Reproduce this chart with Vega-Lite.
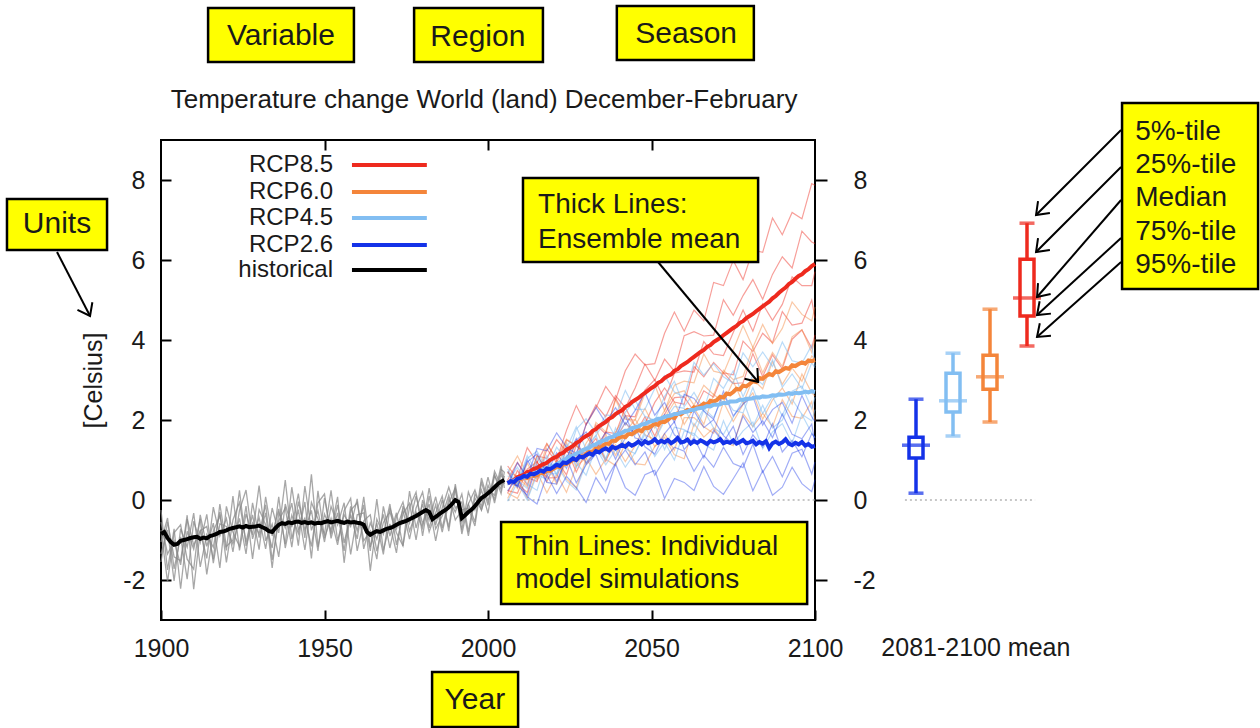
{
  "$schema": "https://vega.github.io/schema/vega-lite/v6.json",
  "width": 654,
  "height": 480,
  "autosize": "none",
  "padding": {"left": 161, "top": 140, "right": 445, "bottom": 108},
  "background": "white",
  "config": {
    "view": {"stroke": "black", "strokeWidth": 2},
    "font": "Liberation Sans",
    "axis": {"labelFont": "Liberation Sans", "titleFont": "Liberation Sans"}
  },
  "datasets": {
    "hm": [
      {"year":1900,"t":-0.85},{"year":1901,"t":-0.80},{"year":1902,"t":-0.95},{"year":1903,"t":-1.05},{"year":1904,"t":-1.12},{"year":1905,"t":-1.10},{"year":1906,"t":-1.02},{"year":1907,"t":-1.00},{"year":1908,"t":-0.98},{"year":1909,"t":-0.95},
      {"year":1910,"t":-0.93},{"year":1911,"t":-0.92},{"year":1912,"t":-0.97},{"year":1913,"t":-0.94},{"year":1914,"t":-0.96},{"year":1915,"t":-0.90},{"year":1916,"t":-0.88},{"year":1917,"t":-0.85},{"year":1918,"t":-0.80},{"year":1919,"t":-0.79},
      {"year":1920,"t":-0.76},{"year":1921,"t":-0.72},{"year":1922,"t":-0.70},{"year":1923,"t":-0.68},{"year":1924,"t":-0.66},{"year":1925,"t":-0.69},{"year":1926,"t":-0.65},{"year":1927,"t":-0.68},{"year":1928,"t":-0.67},{"year":1929,"t":-0.66},
      {"year":1930,"t":-0.64},{"year":1931,"t":-0.68},{"year":1932,"t":-0.72},{"year":1933,"t":-0.78},{"year":1934,"t":-0.80},{"year":1935,"t":-0.70},{"year":1936,"t":-0.62},{"year":1937,"t":-0.58},{"year":1938,"t":-0.60},{"year":1939,"t":-0.56},
      {"year":1940,"t":-0.58},{"year":1941,"t":-0.55},{"year":1942,"t":-0.54},{"year":1943,"t":-0.57},{"year":1944,"t":-0.55},{"year":1945,"t":-0.58},{"year":1946,"t":-0.56},{"year":1947,"t":-0.59},{"year":1948,"t":-0.57},{"year":1949,"t":-0.58},
      {"year":1950,"t":-0.55},{"year":1951,"t":-0.53},{"year":1952,"t":-0.56},{"year":1953,"t":-0.54},{"year":1954,"t":-0.52},{"year":1955,"t":-0.55},{"year":1956,"t":-0.57},{"year":1957,"t":-0.54},{"year":1958,"t":-0.56},{"year":1959,"t":-0.55},
      {"year":1960,"t":-0.57},{"year":1961,"t":-0.58},{"year":1962,"t":-0.62},{"year":1963,"t":-0.80},{"year":1964,"t":-0.87},{"year":1965,"t":-0.82},{"year":1966,"t":-0.78},{"year":1967,"t":-0.80},{"year":1968,"t":-0.76},{"year":1969,"t":-0.72},
      {"year":1970,"t":-0.70},{"year":1971,"t":-0.67},{"year":1972,"t":-0.62},{"year":1973,"t":-0.58},{"year":1974,"t":-0.55},{"year":1975,"t":-0.52},{"year":1976,"t":-0.48},{"year":1977,"t":-0.44},{"year":1978,"t":-0.40},{"year":1979,"t":-0.35},
      {"year":1980,"t":-0.30},{"year":1981,"t":-0.25},{"year":1982,"t":-0.30},{"year":1983,"t":-0.48},{"year":1984,"t":-0.42},{"year":1985,"t":-0.36},{"year":1986,"t":-0.30},{"year":1987,"t":-0.25},{"year":1988,"t":-0.18},{"year":1989,"t":-0.10},
      {"year":1990,"t":0.00},{"year":1991,"t":-0.05},{"year":1992,"t":-0.45},{"year":1993,"t":-0.38},{"year":1994,"t":-0.30},{"year":1995,"t":-0.24},{"year":1996,"t":-0.15},{"year":1997,"t":-0.05},{"year":1998,"t":0.05},{"year":1999,"t":0.10},
      {"year":2000,"t":0.17},{"year":2001,"t":0.24},{"year":2002,"t":0.32},{"year":2003,"t":0.40},{"year":2004,"t":0.46},{"year":2005,"t":0.50}
    ],
    "ht": [
      {"year":1900,"a":-0.55,"b":-1.35,"c":-0.25,"d":-1.05,"e":-0.75,"f":-1.55},
      {"year":1902,"a":-1.35,"b":-0.75,"c":-1.75,"d":-0.45,"e":-2.05,"f":-0.55},
      {"year":1904,"a":-1.02,"b":-2.02,"c":-0.72,"d":-1.72,"e":-0.82,"f":-1.42},
      {"year":1906,"a":-1.62,"b":-0.72,"c":-2.22,"d":-0.92,"e":-0.62,"f":-1.52},
      {"year":1908,"a":-0.48,"b":-1.18,"c":-0.78,"d":-1.98,"e":-1.48,"f":-0.38},
      {"year":1910,"a":-1.13,"b":-0.33,"c":-1.23,"d":-0.53,"e":-1.73,"f":-2.23},
      {"year":1912,"a":-0.77,"b":-1.67,"c":-0.47,"d":-1.07,"e":-0.37,"f":-0.77},
      {"year":1914,"a":-1.46,"b":-0.86,"c":-1.86,"d":-0.36,"e":-1.16,"f":-0.66},
      {"year":1916,"a":-0.18,"b":-1.18,"c":-0.78,"d":-1.58,"e":-0.58,"f":-1.48},
      {"year":1918,"a":-0.90,"b":-0.30,"c":-0.40,"d":-0.60,"e":-1.70,"f":-0.10},
      {"year":1920,"a":-0.46,"b":-1.56,"c":-1.26,"d":-0.66,"e":-0.16,"f":-1.16},
      {"year":1922,"a":-1.30,"b":-0.50,"c":0.10,"d":-1.10,"e":-0.80,"f":-1.00},
      {"year":1924,"a":-0.26,"b":-0.06,"c":-1.26,"d":-0.46,"e":-1.16,"f":0.24},
      {"year":1926,"a":0.25,"b":-1.05,"c":-0.35,"d":-1.35,"e":-0.15,"f":-1.15},
      {"year":1928,"a":-0.97,"b":-0.37,"c":-0.87,"d":-0.07,"e":-1.47,"f":-0.57},
      {"year":1930,"a":-0.44,"b":-1.24,"c":0.36,"d":-0.94,"e":-0.24,"f":-0.84},
      {"year":1932,"a":-1.22,"b":0.08,"c":-1.02,"d":-0.32,"e":-0.62,"f":-0.12},
      {"year":1934,"a":-0.20,"b":-0.90,"c":-0.60,"d":-1.70,"e":-1.20,"f":-1.50},
      {"year":1936,"a":-0.82,"b":-0.22,"c":-1.42,"d":-0.32,"e":0.08,"f":-0.52},
      {"year":1938,"a":0.50,"b":-1.10,"c":-0.10,"d":-0.70,"e":-1.20,"f":-0.20},
      {"year":1940,"a":-0.98,"b":0.32,"c":-0.68,"d":-0.08,"e":-0.38,"f":-1.18},
      {"year":1942,"a":-0.24,"b":-0.74,"c":0.16,"d":-1.14,"e":-0.84,"f":-0.04},
      {"year":1944,"a":-1.25,"b":-0.45,"c":-0.95,"d":0.35,"e":-0.05,"f":-0.75},
      {"year":1946,"a":-0.06,"b":-1.16,"c":0.64,"d":-0.76,"e":-1.46,"f":-0.26},
      {"year":1948,"a":-0.47,"b":-0.07,"c":-1.17,"d":-0.27,"e":0.23,"f":-1.27},
      {"year":1950,"a":-0.85,"b":0.15,"c":-0.35,"d":-1.05,"e":-0.95,"f":0.05},
      {"year":1952,"a":0.24,"b":-0.96,"c":-0.76,"d":-0.16,"e":-0.46,"f":-0.86},
      {"year":1954,"a":-1.02,"b":-0.32,"c":0.08,"d":-0.62,"e":-1.12,"f":-0.12},
      {"year":1956,"a":-0.37,"b":-1.27,"c":-1.57,"d":-0.07,"e":-0.27,"f":-1.07},
      {"year":1958,"a":-0.66,"b":-0.16,"c":-0.26,"d":-1.36,"e":0.04,"f":-0.36},
      {"year":1960,"a":0.03,"b":-0.77,"c":-0.07,"d":-0.37,"e":-1.27,"f":-0.97},
      {"year":1962,"a":-1.22,"b":-0.12,"c":-1.02,"d":-0.32,"e":-0.52,"f":0.08},
      {"year":1964,"a":-0.57,"b":-1.77,"c":-0.77,"d":-1.27,"e":-0.37,"f":-1.17},
      {"year":1966,"a":-0.98,"b":-0.48,"c":-1.48,"d":0.02,"e":-1.28,"f":-0.58},
      {"year":1968,"a":-0.36,"b":-0.86,"c":-0.16,"d":-1.26,"e":-0.56,"f":-1.36},
      {"year":1970,"a":-1.20,"b":-0.10,"c":-0.90,"d":-0.60,"e":-0.30,"f":-0.20},
      {"year":1972,"a":-0.42,"b":-1.12,"c":-0.32,"d":-1.32,"e":-0.82,"f":-0.72},
      {"year":1974,"a":-0.05,"b":-0.35,"c":-1.15,"d":-0.15,"e":-1.15,"f":-0.25},
      {"year":1976,"a":-0.78,"b":-0.08,"c":0.22,"d":-0.58,"e":-0.18,"f":-0.98},
      {"year":1978,"a":-0.30,"b":-1.00,"c":-0.70,"d":0.10,"e":0.20,"f":-0.20},
      {"year":1980,"a":-0.70,"b":0.00,"c":-0.10,"d":-0.60,"e":-0.90,"f":0.20},
      {"year":1982,"a":0.30,"b":-0.50,"c":-0.80,"d":-0.10,"e":0.10,"f":-0.70},
      {"year":1984,"a":-0.62,"b":0.08,"c":-0.32,"d":-1.02,"e":-0.72,"f":-0.12},
      {"year":1986,"a":0.00,"b":-0.70,"c":0.10,"d":-0.20,"e":-0.40,"f":-0.80},
      {"year":1988,"a":-0.68,"b":0.02,"c":-0.78,"d":0.32,"e":0.12,"f":-0.08},
      {"year":1990,"a":0.40,"b":-0.30,"c":0.30,"d":-0.20,"e":-0.50,"f":0.30},
      {"year":1992,"a":-0.55,"b":0.15,"c":-0.75,"d":-0.05,"e":-0.25,"f":-0.85},
      {"year":1994,"a":-0.10,"b":-0.80,"c":0.20,"d":-0.90,"e":-0.20,"f":-0.10},
      {"year":1996,"a":-0.55,"b":0.15,"c":-0.25,"d":0.05,"e":-0.65,"f":0.25},
      {"year":1998,"a":0.55,"b":-0.15,"c":0.25,"d":-0.25,"e":0.45,"f":-0.25},
      {"year":2000,"a":-0.03,"b":0.57,"c":-0.33,"d":0.27,"e":-0.13,"f":0.37},
      {"year":2002,"a":0.62,"b":-0.08,"c":0.62,"d":0.12,"e":0.72,"f":0.02},
      {"year":2004,"a":0.16,"b":0.66,"c":0.26,"d":0.86,"e":0.36,"f":0.76},
      {"year":2005,"a":0.60,"b":0.40,"c":0.70,"d":0.30,"e":0.50,"f":0.70}
    ],
    "rm": [
      {"year":2006,"r85":0.42,"r60":0.42,"r45":0.42,"r26":0.42},{"year":2007,"r85":0.46,"r60":0.47,"r45":0.46,"r26":0.47},{"year":2008,"r85":0.50,"r60":0.44,"r45":0.48,"r26":0.45},{"year":2009,"r85":0.57,"r60":0.52,"r45":0.53,"r26":0.53},
      {"year":2010,"r85":0.60,"r60":0.52,"r45":0.55,"r26":0.55},{"year":2011,"r85":0.63,"r60":0.57,"r45":0.57,"r26":0.60},{"year":2012,"r85":0.70,"r60":0.55,"r45":0.62,"r26":0.58},{"year":2013,"r85":0.72,"r60":0.62,"r45":0.63,"r26":0.66},
      {"year":2014,"r85":0.78,"r60":0.60,"r45":0.67,"r26":0.64},{"year":2015,"r85":0.80,"r60":0.62,"r45":0.68,"r26":0.68},{"year":2016,"r85":0.86,"r60":0.68,"r45":0.72,"r26":0.74},{"year":2017,"r85":0.90,"r60":0.67,"r45":0.75,"r26":0.71},
      {"year":2018,"r85":0.93,"r60":0.74,"r45":0.79,"r26":0.79},{"year":2019,"r85":1.00,"r60":0.73,"r45":0.81,"r26":0.77},{"year":2020,"r85":1.05,"r60":0.78,"r45":0.85,"r26":0.82},{"year":2021,"r85":1.08,"r60":0.84,"r45":0.90,"r26":0.88},
      {"year":2022,"r85":1.15,"r60":0.82,"r45":0.94,"r26":0.85},{"year":2023,"r85":1.18,"r60":0.90,"r45":0.99,"r26":0.94},{"year":2024,"r85":1.26,"r60":0.90,"r45":1.03,"r26":0.92},{"year":2025,"r85":1.30,"r60":0.95,"r45":1.08,"r26":0.98},
      {"year":2026,"r85":1.35,"r60":1.01,"r45":1.11,"r26":1.04},{"year":2027,"r85":1.43,"r60":1.00,"r45":1.16,"r26":1.00},{"year":2028,"r85":1.47,"r60":1.09,"r45":1.19,"r26":1.09},{"year":2029,"r85":1.55,"r60":1.08,"r45":1.25,"r26":1.06},
      {"year":2030,"r85":1.60,"r60":1.15,"r45":1.28,"r26":1.12},{"year":2031,"r85":1.64,"r60":1.21,"r45":1.31,"r26":1.17},{"year":2032,"r85":1.73,"r60":1.20,"r45":1.37,"r26":1.13},{"year":2033,"r85":1.77,"r60":1.29,"r45":1.39,"r26":1.22},
      {"year":2034,"r85":1.85,"r60":1.28,"r45":1.45,"r26":1.19},{"year":2035,"r85":1.90,"r60":1.35,"r45":1.48,"r26":1.25},{"year":2036,"r85":1.95,"r60":1.41,"r45":1.50,"r26":1.29},{"year":2037,"r85":2.03,"r60":1.40,"r45":1.56,"r26":1.24},
      {"year":2038,"r85":2.07,"r60":1.49,"r45":1.57,"r26":1.33},{"year":2039,"r85":2.15,"r60":1.48,"r45":1.63,"r26":1.29},{"year":2040,"r85":2.20,"r60":1.55,"r45":1.65,"r26":1.33},{"year":2041,"r85":2.24,"r60":1.59,"r45":1.68,"r26":1.38},
      {"year":2042,"r85":2.33,"r60":1.57,"r45":1.73,"r26":1.33},{"year":2043,"r85":2.37,"r60":1.66,"r45":1.74,"r26":1.41},{"year":2044,"r85":2.45,"r60":1.64,"r45":1.80,"r26":1.36},{"year":2045,"r85":2.50,"r60":1.70,"r45":1.82,"r26":1.40},
      {"year":2046,"r85":2.55,"r60":1.75,"r45":1.84,"r26":1.46},{"year":2047,"r85":2.62,"r60":1.72,"r45":1.89,"r26":1.39},{"year":2048,"r85":2.68,"r60":1.82,"r45":1.90,"r26":1.47},{"year":2049,"r85":2.74,"r60":1.80,"r45":1.95,"r26":1.42},
      {"year":2050,"r85":2.80,"r60":1.85,"r45":1.97,"r26":1.45},{"year":2051,"r85":2.85,"r60":1.91,"r45":1.99,"r26":1.52},{"year":2052,"r85":2.93,"r60":1.88,"r45":2.03,"r26":1.43},{"year":2053,"r85":2.97,"r60":1.97,"r45":2.04,"r26":1.48},
      {"year":2054,"r85":3.05,"r60":1.95,"r45":2.08,"r26":1.44},{"year":2055,"r85":3.10,"r60":2.00,"r45":2.10,"r26":1.50},{"year":2056,"r85":3.14,"r60":2.08,"r45":2.11,"r26":1.42},{"year":2057,"r85":3.23,"r60":2.05,"r45":2.15,"r26":1.47},
      {"year":2058,"r85":3.27,"r60":2.16,"r45":2.15,"r26":1.55},{"year":2059,"r85":3.35,"r60":2.14,"r45":2.19,"r26":1.44},{"year":2060,"r85":3.40,"r60":2.20,"r45":2.20,"r26":1.46},{"year":2061,"r85":3.45,"r60":2.25,"r45":2.21,"r26":1.51},
      {"year":2062,"r85":3.52,"r60":2.23,"r45":2.25,"r26":1.41},{"year":2063,"r85":3.58,"r60":2.32,"r45":2.25,"r26":1.47},{"year":2064,"r85":3.64,"r60":2.30,"r45":2.29,"r26":1.43},{"year":2065,"r85":3.70,"r60":2.35,"r45":2.30,"r26":1.49},
      {"year":2066,"r85":3.75,"r60":2.41,"r45":2.31,"r26":1.45},{"year":2067,"r85":3.83,"r60":2.38,"r45":2.35,"r26":1.40},{"year":2068,"r85":3.87,"r60":2.48,"r45":2.34,"r26":1.48},{"year":2069,"r85":3.95,"r60":2.46,"r45":2.38,"r26":1.44},
      {"year":2070,"r85":4.00,"r60":2.50,"r45":2.38,"r26":1.47},{"year":2071,"r85":4.05,"r60":2.58,"r45":2.39,"r26":1.52},{"year":2072,"r85":4.12,"r60":2.56,"r45":2.43,"r26":1.42},{"year":2073,"r85":4.18,"r60":2.66,"r45":2.42,"r26":1.46},
      {"year":2074,"r85":4.24,"r60":2.64,"r45":2.46,"r26":1.43},{"year":2075,"r85":4.30,"r60":2.70,"r45":2.46,"r26":1.49},{"year":2076,"r85":4.35,"r60":2.78,"r45":2.47,"r26":1.41},{"year":2077,"r85":4.43,"r60":2.76,"r45":2.51,"r26":1.45},
      {"year":2078,"r85":4.47,"r60":2.86,"r45":2.50,"r26":1.50},{"year":2079,"r85":4.55,"r60":2.84,"r45":2.53,"r26":1.42},{"year":2080,"r85":4.60,"r60":2.90,"r45":2.53,"r26":1.44},{"year":2081,"r85":4.65,"r60":2.97,"r45":2.54,"r26":1.48},
      {"year":2082,"r85":4.72,"r60":2.95,"r45":2.57,"r26":1.39},{"year":2083,"r85":4.78,"r60":3.05,"r45":2.56,"r26":1.45},{"year":2084,"r85":4.84,"r60":3.03,"r45":2.59,"r26":1.41},{"year":2085,"r85":4.90,"r60":3.10,"r45":2.58,"r26":1.47},
      {"year":2086,"r85":4.96,"r60":3.15,"r45":2.59,"r26":1.30},{"year":2087,"r85":5.04,"r60":3.12,"r45":2.62,"r26":1.42},{"year":2088,"r85":5.10,"r60":3.22,"r45":2.61,"r26":1.46},{"year":2089,"r85":5.18,"r60":3.20,"r45":2.64,"r26":1.40},
      {"year":2090,"r85":5.25,"r60":3.25,"r45":2.63,"r26":1.44},{"year":2091,"r85":5.31,"r60":3.30,"r45":2.64,"r26":1.52},{"year":2092,"r85":5.40,"r60":3.28,"r45":2.67,"r26":1.41},{"year":2093,"r85":5.45,"r60":3.37,"r45":2.65,"r26":1.37},
      {"year":2094,"r85":5.53,"r60":3.35,"r45":2.68,"r26":1.43},{"year":2095,"r85":5.60,"r60":3.40,"r45":2.67,"r26":1.39},{"year":2096,"r85":5.64,"r60":3.44,"r45":2.68,"r26":1.45},{"year":2097,"r85":5.72,"r60":3.41,"r45":2.71,"r26":1.36},
      {"year":2098,"r85":5.77,"r60":3.49,"r45":2.69,"r26":1.40},{"year":2099,"r85":5.85,"r60":3.47,"r45":2.72,"r26":1.33},{"year":2100,"r85":5.90,"r60":3.50,"r45":2.70,"r26":1.35}
    ],
    "rt": [
      {"year":2006,"a1":0.85,"a2":0.17,"a3":0.50,"a4":0.24,"a5":0.49,"b1":0.67,"b2":0.68,"b3":0.70,"b4":0.04,"b5":0.17,"c1":0.47,"c2":0.78,"c3":0.60,"c4":0.44,"c5":-0.03,"d1":0.37,"d2":0.43,"d3":0.72,"d4":0.49,"d5":0.23},
      {"year":2009,"a1":0.54,"a2":0.74,"a3":0.94,"a4":0.17,"a5":0.40,"b1":1.10,"b2":0.60,"b3":0.29,"b4":0.52,"b5":0.04,"c1":0.42,"c2":0.41,"c3":0.50,"c4":0.82,"c5":0.44,"d1":0.93,"d2":0.35,"d3":0.32,"d4":0.36,"d5":0.56},
      {"year":2012,"a1":1.31,"a2":0.38,"a3":0.57,"a4":0.77,"a5":0.19,"b1":0.64,"b2":0.33,"b3":0.92,"b4":0.04,"b5":0.56,"c1":1.04,"c2":1.11,"c3":0.29,"c4":0.40,"c5":0.00,"d1":0.56,"d2":0.95,"d3":1.00,"d4":0.12,"d5":0.08},
      {"year":2015,"a1":0.94,"a2":1.10,"a3":0.46,"a4":0.96,"a5":0.96,"b1":0.54,"b2":1.11,"b3":0.49,"b4":0.70,"b5":0.70,"c1":1.22,"c2":0.68,"c3":1.05,"c4":0.24,"c5":0.64,"d1":1.29,"d2":1.15,"d3":0.58,"d4":0.88,"d5":-0.10},
      {"year":2018,"a1":1.41,"a2":1.04,"a3":1.28,"a4":0.46,"a5":0.55,"b1":1.40,"b2":0.75,"b3":0.90,"b4":0.59,"b5":0.18,"c1":0.77,"c2":1.11,"c3":0.65,"c4":1.03,"c5":0.51,"d1":1.23,"d2":0.66,"d3":0.97,"d4":0.44,"d5":0.63},
      {"year":2021,"a1":1.00,"a2":1.51,"a3":0.93,"a4":0.99,"a5":0.56,"b1":1.03,"b2":0.77,"b3":0.40,"b4":0.97,"b5":0.65,"c1":1.32,"c2":0.64,"c3":0.66,"c4":0.62,"c5":0.89,"d1":1.68,"d2":1.18,"d3":0.46,"d4":0.40,"d5":0.16},
      {"year":2024,"a1":1.74,"a2":1.21,"a3":1.50,"a4":0.63,"a5":1.28,"b1":1.52,"b2":1.44,"b3":0.96,"b4":0.52,"b5":0.19,"c1":0.99,"c2":1.28,"c3":1.38,"c4":1.12,"c5":0.47,"d1":1.32,"d2":0.79,"d3":1.05,"d4":1.07,"d5":0.59},
      {"year":2027,"a1":2.36,"a2":1.10,"a3":1.36,"a4":1.37,"a5":0.70,"b1":1.35,"b2":0.85,"b3":1.45,"b4":0.30,"b5":0.85,"c1":1.77,"c2":1.83,"c3":0.80,"c4":0.93,"c5":0.25,"d1":1.16,"d2":1.50,"d3":1.54,"d4":0.43,"d5":0.31},
      {"year":2030,"a1":1.88,"a2":1.89,"a3":1.12,"a4":1.61,"a5":1.22,"b1":1.15,"b2":1.42,"b3":0.89,"b4":1.02,"b5":1.05,"c1":2.03,"c2":1.27,"c3":1.32,"c4":0.62,"c5":0.93,"d1":1.89,"d2":1.70,"d3":0.92,"d4":0.88,"d5":-0.06},
      {"year":2033,"a1":2.30,"a2":2.38,"a3":1.88,"a4":1.25,"a5":1.54,"b1":1.94,"b2":1.78,"b3":1.23,"b4":1.43,"b5":0.64,"c1":1.68,"c2":1.60,"c3":1.62,"c4":1.31,"c5":1.30,"d1":2.32,"d2":1.30,"d3":1.20,"d4":1.14,"d5":0.56},
      {"year":2036,"a1":2.84,"a2":2.08,"a3":1.65,"a4":1.70,"a5":0.97,"b1":1.70,"b2":1.22,"b3":1.64,"b4":1.03,"b5":1.02,"c1":2.13,"c2":2.03,"c3":1.03,"c4":1.00,"c5":0.88,"d1":1.93,"d2":1.69,"d3":1.57,"d4":0.49,"d5":0.18},
      {"year":2039,"a1":2.50,"a2":2.61,"a3":2.54,"a4":1.66,"a5":1.51,"b1":2.50,"b2":1.70,"b3":1.11,"b4":1.38,"b5":0.86,"c1":2.10,"c2":1.57,"c3":1.55,"c4":1.80,"c5":1.26,"d1":2.31,"d2":1.55,"d3":1.02,"d4":0.92,"d5":0.90},
      {"year":2042,"a1":3.23,"a2":2.31,"a3":2.11,"a4":2.31,"a5":1.93,"b1":2.02,"b2":2.11,"b3":1.69,"b4":0.96,"b5":1.42,"c1":2.74,"c2":2.19,"c3":1.94,"c4":1.28,"c5":0.82,"d1":1.88,"d2":2.10,"d3":1.56,"d4":1.25,"d5":0.31},
      {"year":2045,"a1":3.65,"a2":2.80,"a3":2.08,"a4":1.85,"a5":1.65,"b1":2.00,"b2":1.86,"b3":2.02,"b4":1.36,"b5":0.91,"c1":2.26,"c2":2.49,"c3":1.63,"c4":1.16,"c5":1.18,"d1":2.24,"d2":1.55,"d3":1.80,"d4":0.88,"d5":0.12},
      {"year":2048,"a1":3.38,"a2":3.40,"a3":2.75,"a4":1.90,"a5":2.08,"b1":2.66,"b2":2.29,"b3":1.63,"b4":1.86,"b5":0.88,"c1":2.27,"c2":2.09,"c3":2.01,"c4":1.72,"c5":1.64,"d1":2.69,"d2":1.49,"d3":1.33,"d4":1.20,"d5":0.63},
      {"year":2051,"a1":3.41,"a2":2.99,"a3":3.01,"a4":2.44,"a5":1.60,"b1":2.88,"b2":1.80,"b3":1.51,"b4":1.33,"b5":1.34,"c1":2.79,"c2":1.99,"c3":1.49,"c4":1.89,"c5":1.09,"d1":2.12,"d2":1.91,"d3":1.15,"d4":0.62,"d5":0.74},
      {"year":2054,"a1":4.17,"a2":3.52,"a3":2.50,"a4":2.80,"a5":2.14,"b1":2.23,"b2":2.24,"b3":2.05,"b4":1.66,"b5":1.57,"c1":3.11,"c2":2.59,"c3":1.98,"c4":1.26,"c5":1.45,"d1":2.44,"d2":2.13,"d3":1.66,"d4":1.02,"d5":0.04},
      {"year":2057,"a1":4.70,"a2":3.22,"a3":3.17,"a4":2.45,"a5":2.56,"b1":2.87,"b2":2.66,"b3":2.45,"b4":1.24,"b5":1.13,"c1":2.70,"c2":2.97,"c3":2.34,"c4":1.82,"c5":1.00,"d1":1.94,"d2":1.63,"d3":1.96,"d4":1.32,"d5":0.54},
      {"year":2060,"a1":4.22,"a2":4.11,"a3":3.23,"a4":2.39,"a5":2.58,"b1":2.97,"b2":2.73,"b3":1.89,"b4":2.06,"b5":1.03,"c1":2.57,"c2":2.33,"c3":2.29,"c4":1.76,"c5":1.73,"d1":2.64,"d2":1.43,"d3":1.26,"d4":1.22,"d5":0.44},
      {"year":2063,"a1":4.75,"a2":4.21,"a3":3.20,"a4":3.34,"a5":2.21,"b1":2.93,"b2":2.37,"b3":2.30,"b4":2.06,"b5":1.91,"c1":3.44,"c2":2.69,"c3":1.84,"c4":1.60,"c5":1.66,"d1":2.54,"d2":2.23,"d3":1.56,"d4":0.72,"d5":0.24},
      {"year":2066,"a1":4.48,"a2":4.10,"a3":3.96,"a4":3.08,"a5":2.73,"b1":3.65,"b2":2.87,"b3":1.89,"b4":1.83,"b5":1.57,"c1":3.12,"c2":2.26,"c3":2.29,"c4":2.25,"c5":1.40,"d1":2.22,"d2":1.81,"d3":1.05,"d4":1.12,"d5":0.84},
      {"year":2069,"a1":5.44,"a2":4.12,"a3":3.65,"a4":3.44,"a5":2.57,"b1":3.22,"b2":2.63,"b3":2.64,"b4":1.67,"b5":1.80,"c1":3.41,"c2":3.04,"c3":2.06,"c4":1.80,"c5":1.25,"d1":2.02,"d2":2.01,"d3":1.75,"d4":0.82,"d5":0.34},
      {"year":2072,"a1":5.36,"a2":5.01,"a3":3.61,"a4":3.18,"a5":3.18,"b1":3.16,"b2":3.24,"b3":2.43,"b4":2.45,"b5":1.46,"c1":3.08,"c2":2.79,"c3":2.61,"c4":1.64,"c5":1.98,"d1":2.72,"d2":1.61,"d3":1.45,"d4":1.32,"d5":0.14},
      {"year":2075,"a1":5.99,"a2":4.62,"a3":4.19,"a4":3.13,"a5":2.91,"b1":3.75,"b2":3.01,"b3":2.97,"b4":1.96,"b5":1.36,"c1":2.92,"c2":3.23,"c3":2.24,"c4":2.07,"c5":1.40,"d1":2.10,"d2":1.40,"d3":1.84,"d4":0.91,"d5":0.53},
      {"year":2078,"a1":5.51,"a2":5.11,"a3":4.75,"a4":3.97,"a5":2.93,"b1":4.36,"b2":3.09,"b3":2.42,"b4":2.39,"b5":2.16,"c1":3.68,"c2":2.58,"c3":2.18,"c4":2.50,"c5":1.73,"d1":2.40,"d2":2.10,"d3":1.14,"d4":0.81,"d5":0.93},
      {"year":2081,"a1":6.25,"a2":5.51,"a3":4.22,"a4":3.71,"a5":3.66,"b1":3.81,"b2":3.82,"b3":3.02,"b4":2.68,"b5":1.83,"c1":3.33,"c2":3.12,"c3":2.81,"c4":1.83,"c5":1.95,"d1":2.59,"d2":1.69,"d3":1.63,"d4":1.40,"d5":0.23},
      {"year":2084,"a1":6.19,"a2":5.02,"a3":4.90,"a4":4.17,"a5":3.09,"b1":4.39,"b2":3.18,"b3":2.78,"b4":2.02,"b5":2.17,"c1":3.70,"c2":2.88,"c3":2.16,"c4":2.37,"c5":1.28,"d1":1.87,"d2":1.98,"d3":1.32,"d4":0.69,"d5":0.73},
      {"year":2087,"a1":7.05,"a2":5.64,"a3":4.49,"a4":3.93,"a5":3.63,"b1":3.91,"b2":3.69,"b3":3.46,"b4":2.50,"b5":1.83,"c1":3.34,"c2":3.51,"c3":2.59,"c4":1.80,"c5":1.70,"d1":2.26,"d2":1.56,"d3":1.91,"d4":1.09,"d5":0.12},
      {"year":2090,"a1":6.63,"a2":6.08,"a3":4.89,"a4":4.71,"a5":3.28,"b1":4.29,"b2":3.34,"b3":2.89,"b4":2.80,"b5":2.51,"c1":3.95,"c2":2.82,"c3":2.10,"c4":2.00,"c5":1.91,"d1":2.44,"d2":2.15,"d3":1.20,"d4":0.58,"d5":0.32},
      {"year":2093,"a1":7.19,"a2":5.80,"a3":5.58,"a4":4.37,"a5":4.02,"b1":4.95,"b2":4.08,"b3":3.30,"b4":2.40,"b5":2.09,"c1":3.48,"c2":3.15,"c3":2.72,"c4":2.52,"c5":1.42,"d1":1.92,"d2":1.64,"d3":1.49,"d4":1.17,"d5":0.82},
      {"year":2096,"a1":7.03,"a2":6.72,"a3":5.36,"a4":4.42,"a5":4.25,"b1":4.64,"b2":4.26,"b3":2.97,"b4":3.15,"b5":2.04,"c1":3.42,"c2":2.78,"c3":2.85,"c4":2.14,"c5":2.14,"d1":2.61,"d2":1.53,"d3":1.08,"d4":1.27,"d5":0.41},
      {"year":2099,"a1":7.91,"a2":6.45,"a3":5.36,"a4":5.00,"a5":3.80,"b1":4.48,"b2":3.69,"b3":3.60,"b4":2.68,"b5":2.46,"c1":3.87,"c2":3.43,"c3":2.28,"c4":1.98,"c5":1.67,"d1":2.08,"d2":1.90,"d3":1.66,"d4":0.65,"d5":0.21},
      {"year":2100,"a1":7.87,"a2":6.41,"a3":5.71,"a4":4.54,"a5":4.13,"b1":4.83,"b2":4.03,"b3":3.53,"b4":2.60,"b5":1.98,"c1":3.35,"c2":3.31,"c3":2.57,"c4":2.26,"c5":1.56,"d1":1.96,"d2":1.39,"d3":1.55,"d4":0.95,"d5":0.51}
    ],
    "box": [
      {"scen":"RCP2.6","p5":0.17,"p25":1.05,"p50":1.37,"p75":1.57,"p95":2.52},
      {"scen":"RCP4.5","p5":1.60,"p25":2.20,"p50":2.48,"p75":3.17,"p95":3.67},
      {"scen":"RCP6.0","p5":1.95,"p25":2.77,"p50":3.08,"p75":3.62,"p95":4.77},
      {"scen":"RCP8.5","p5":3.85,"p25":4.60,"p50":5.05,"p75":6.02,"p95":6.92}
    ],
    "leg": [
      {"scen":"RCP8.5","ly":8.375},
      {"scen":"RCP6.0","ly":7.7},
      {"scen":"RCP4.5","ly":7.05},
      {"scen":"RCP2.6","ly":6.375},
      {"scen":"historical","ly":5.75}
    ],
    "boxes": [
      {"x1":1914.4,"x2":1959.0,"y1":12.3,"y2":10.95},
      {"x1":1977.4,"x2":2016.8,"y1":12.3,"y2":10.95},
      {"x1":2039.4,"x2":2081.3,"y1":12.35,"y2":11.0},
      {"x1":1852.9,"x2":1883.5,"y1":7.525,"y2":6.25},
      {"x1":2010.7,"x2":2082.6,"y1":8.05,"y2":5.95},
      {"x1":2004.0,"x2":2097.6,"y1":-0.55,"y2":-2.6},
      {"x1":1982.9,"x2":2009.2,"y1":-4.3,"y2":-5.675},
      {"x1":2193.9,"x2":2235.5,"y1":9.925,"y2":5.275}
    ],
    "ctext": [
      {"x":1936.7,"y":11.6,"label":"Variable"},
      {"x":1996.9,"y":11.575,"label":"Region"},
      {"x":2060.6,"y":11.65,"label":"Season"},
      {"x":1868.2,"y":6.9,"label":"Units"},
      {"x":1996.0,"y":-5.0,"label":"Year"}
    ],
    "ltext": [
      {"x":2015.3,"y":7.375,"label":"Thick Lines:"},
      {"x":2015.3,"y":6.5,"label":"Ensemble mean"},
      {"x":2008.3,"y":-1.175,"label":"Thin Lines: Individual"},
      {"x":2008.3,"y":-2.0,"label":"model simulations"},
      {"x":2197.9,"y":9.2,"label":"5%-tile"},
      {"x":2197.9,"y":8.375,"label":"25%-tile"},
      {"x":2197.9,"y":7.55,"label":"Median"},
      {"x":2197.9,"y":6.7,"label":"75%-tile"},
      {"x":2197.9,"y":5.875,"label":"95%-tile"}
    ],
    "arrows": [
      {"x":1868.2,"y":6.2,"x2":1878.3,"y2":4.6},
      {"x":2052.0,"y":5.95,"x2":2082.6,"y2":2.95},
      {"x":2193.6,"y":9.25,"x2":2167.6,"y2":7.125},
      {"x":2193.6,"y":8.325,"x2":2167.6,"y2":6.2},
      {"x":2193.6,"y":7.5,"x2":2167.9,"y2":5.075},
      {"x":2193.6,"y":6.55,"x2":2167.9,"y2":4.625},
      {"x":2193.6,"y":5.95,"x2":2167.9,"y2":4.075}
    ],
    "misc": [
      {"x":2149.2,"y":-3.7,"label":"2081-2100 mean"}
    ],
    "ttl": [
      {"x":1998.8,"y":10.0,"label":"Temperature change World (land) December-February"}
    ]
  },
  "layer": [
    {
      "layer": [
        {
          "data": {"name": "ht"},
          "transform": [{"fold": ["a","b","c","d","e","f"], "as": ["model","t"]}],
          "mark": {"type": "line", "color": "#8a8a8a", "strokeWidth": 1.3, "opacity": 0.75},
          "encoding": {
            "x": {"field": "year", "type": "quantitative", "scale": {"domain": [1900, 2100]},
                  "axis": {"orient": "bottom", "values": [1900,1950,2000,2050,2100], "format": "d", "tickSize": -10, "tickWidth": 2, "tickColor": "black", "domain": false, "grid": false, "labelFontSize": 25, "labelPadding": 26, "labelFlush": false, "labelColor": "#1a1a1a", "title": null}},
            "y": {"field": "t", "type": "quantitative", "scale": {"domain": [-3, 9]},
                  "axis": {"orient": "left", "values": [-2,0,2,4,6,8], "labelExpr": "'' + datum.value", "tickSize": -10, "tickWidth": 2, "tickColor": "black", "domain": false, "grid": false, "labelFontSize": 25, "labelPadding": 26, "labelColor": "#1a1a1a", "title": "[Celsius]", "titleFontSize": 25, "titleFontWeight": "normal", "titleColor": "#1a1a1a", "titlePadding": 16}},
            "detail": {"field": "model", "type": "nominal"}
          }
        },
        {
          "data": {"name": "hm"},
          "mark": {"type": "line", "color": "black", "strokeWidth": 4},
          "encoding": {
            "x": {"field": "year", "type": "quantitative", "scale": {"domain": [1900, 2100]}},
            "y": {"field": "t", "type": "quantitative", "scale": {"domain": [-3, 9]}}
          }
        },
        {
          "data": {"values": [{}]},
          "mark": {"type": "rule", "strokeDash": [2, 3], "color": "#b5b5b5", "strokeWidth": 1.5},
          "encoding": {
            "x": {"datum": 2006, "type": "quantitative"},
            "x2": {"datum": 2100},
            "y": {"datum": 0, "type": "quantitative"}
          }
        },
        {
          "data": {"name": "rt"},
          "transform": [{"fold": ["a1","a2","a3","a4","a5"], "as": ["model","t"]}],
          "mark": {"type": "line", "color": "#EE2A1E", "strokeWidth": 1.2, "opacity": 0.45},
          "encoding": {
            "x": {"field": "year", "type": "quantitative", "scale": {"domain": [1900, 2100]}},
            "y": {"field": "t", "type": "quantitative", "scale": {"domain": [-3, 9]}},
            "detail": {"field": "model", "type": "nominal"}
          }
        },
        {
          "data": {"name": "rt"},
          "transform": [{"fold": ["b1","b2","b3","b4","b5"], "as": ["model","t"]}],
          "mark": {"type": "line", "color": "#F4853A", "strokeWidth": 1.2, "opacity": 0.45},
          "encoding": {
            "x": {"field": "year", "type": "quantitative", "scale": {"domain": [1900, 2100]}},
            "y": {"field": "t", "type": "quantitative", "scale": {"domain": [-3, 9]}},
            "detail": {"field": "model", "type": "nominal"}
          }
        },
        {
          "data": {"name": "rt"},
          "transform": [{"fold": ["c1","c2","c3","c4","c5"], "as": ["model","t"]}],
          "mark": {"type": "line", "color": "#82BEF2", "strokeWidth": 1.2, "opacity": 0.55},
          "encoding": {
            "x": {"field": "year", "type": "quantitative", "scale": {"domain": [1900, 2100]}},
            "y": {"field": "t", "type": "quantitative", "scale": {"domain": [-3, 9]}},
            "detail": {"field": "model", "type": "nominal"}
          }
        },
        {
          "data": {"name": "rt"},
          "transform": [{"fold": ["d1","d2","d3","d4","d5"], "as": ["model","t"]}],
          "mark": {"type": "line", "color": "#1432E8", "strokeWidth": 1.2, "opacity": 0.4},
          "encoding": {
            "x": {"field": "year", "type": "quantitative", "scale": {"domain": [1900, 2100]}},
            "y": {"field": "t", "type": "quantitative", "scale": {"domain": [-3, 9]}},
            "detail": {"field": "model", "type": "nominal"}
          }
        },
        {
          "data": {"name": "leg"},
          "mark": {"type": "text", "align": "right", "baseline": "middle", "fontSize": 24, "color": "#1a1a1a"},
          "encoding": {
            "x": {"datum": 1952.6, "type": "quantitative"},
            "y": {"field": "ly", "type": "quantitative", "scale": {"domain": [-3, 9]}},
            "text": {"field": "scen"}
          }
        },
        {
          "data": {"name": "leg"},
          "mark": {"type": "rule", "strokeWidth": 4},
          "encoding": {
            "x": {"datum": 1958.4, "type": "quantitative"},
            "x2": {"datum": 1981.3},
            "y": {"field": "ly", "type": "quantitative", "scale": {"domain": [-3, 9]}},
            "color": {"field": "scen", "type": "nominal", "scale": {"domain": ["RCP8.5","RCP6.0","RCP4.5","RCP2.6","historical"], "range": ["#EE2A1E","#F4853A","#82BEF2","#1432E8","black"]}, "legend": null}
          }
        }
      ]
    },
    {
      "data": {"name": "rm"},
      "layer": [
        {
          "mark": {"type": "line", "color": "#EE2A1E", "strokeWidth": 4},
          "encoding": {
            "x": {"field": "year", "type": "quantitative", "scale": {"domain": [1900, 2100]},
                  "axis": {"orient": "top", "values": [1950,2000,2050], "labels": false, "tickSize": -10, "tickWidth": 2, "tickColor": "black", "domain": false, "grid": false, "title": null}},
            "y": {"field": "r85", "type": "quantitative", "scale": {"domain": [-3, 9]},
                  "axis": {"orient": "right", "values": [-2,0,2,4,6,8], "labelExpr": "'' + datum.value", "tickSize": 12, "tickWidth": 2, "tickColor": "black", "domain": false, "grid": false, "labelFontSize": 25, "labelPadding": 26, "labelColor": "#1a1a1a", "title": null}}
          }
        },
        {
          "mark": {"type": "line", "color": "#F4853A", "strokeWidth": 4},
          "encoding": {
            "x": {"field": "year", "type": "quantitative", "scale": {"domain": [1900, 2100]}},
            "y": {"field": "r60", "type": "quantitative", "scale": {"domain": [-3, 9]}}
          }
        },
        {
          "mark": {"type": "line", "color": "#82BEF2", "strokeWidth": 4},
          "encoding": {
            "x": {"field": "year", "type": "quantitative", "scale": {"domain": [1900, 2100]}},
            "y": {"field": "r45", "type": "quantitative", "scale": {"domain": [-3, 9]}}
          }
        },
        {
          "mark": {"type": "line", "color": "#1432E8", "strokeWidth": 4},
          "encoding": {
            "x": {"field": "year", "type": "quantitative", "scale": {"domain": [1900, 2100]}},
            "y": {"field": "r26", "type": "quantitative", "scale": {"domain": [-3, 9]}}
          }
        }
      ]
    },
    {
      "data": {"name": "box"},
      "encoding": {
        "x": {"field": "scen", "type": "nominal", "scale": {"type": "point", "domain": ["RCP2.6","RCP4.5","RCP6.0","RCP8.5"], "range": [755, 866], "padding": 0}, "axis": null}
      },
      "layer": [
        {
          "mark": {"type": "rule", "strokeWidth": 3.5},
          "encoding": {
            "y": {"field": "p5", "type": "quantitative", "scale": {"domain": [-3, 9]}, "axis": null},
            "y2": {"field": "p95"},
            "color": {"field": "scen", "type": "nominal", "scale": {"domain": ["RCP8.5","RCP6.0","RCP4.5","RCP2.6","historical"], "range": ["#EE2A1E","#F4853A","#82BEF2","#1432E8","black"]}, "legend": null}
          }
        },
        {
          "mark": {"type": "bar", "width": 14, "fill": "white", "strokeWidth": 3.5},
          "encoding": {
            "y": {"field": "p25", "type": "quantitative", "scale": {"domain": [-3, 9]}, "axis": null},
            "y2": {"field": "p75"},
            "stroke": {"field": "scen", "type": "nominal", "scale": {"domain": ["RCP8.5","RCP6.0","RCP4.5","RCP2.6","historical"], "range": ["#EE2A1E","#F4853A","#82BEF2","#1432E8","black"]}, "legend": null}
          }
        },
        {
          "mark": {"type": "tick", "orient": "horizontal", "size": 15, "thickness": 3.5},
          "encoding": {
            "y": {"field": "p5", "type": "quantitative", "scale": {"domain": [-3, 9]}, "axis": null},
            "color": {"field": "scen", "type": "nominal", "legend": null}
          }
        },
        {
          "mark": {"type": "tick", "orient": "horizontal", "size": 15, "thickness": 3.5},
          "encoding": {
            "y": {"field": "p95", "type": "quantitative", "scale": {"domain": [-3, 9]}, "axis": null},
            "color": {"field": "scen", "type": "nominal", "legend": null}
          }
        },
        {
          "mark": {"type": "tick", "orient": "horizontal", "size": 28, "thickness": 3.5},
          "encoding": {
            "y": {"field": "p50", "type": "quantitative", "scale": {"domain": [-3, 9]}, "axis": null},
            "color": {"field": "scen", "type": "nominal", "legend": null}
          }
        }
      ]
    },
    {
      "layer": [
        {
          "data": {"values": [{}]},
          "mark": {"type": "rule", "strokeDash": [2, 3], "color": "#b5b5b5", "strokeWidth": 1.5},
          "encoding": {
            "x": {"datum": 2127.5, "type": "quantitative", "scale": {"domain": [1900, 2100]}, "axis": null},
            "x2": {"datum": 2167.3},
            "y": {"datum": 0, "type": "quantitative", "scale": {"domain": [-3, 9]}, "axis": null}
          }
        },
        {
          "data": {"name": "arrows"},
          "mark": {"type": "rule", "color": "black", "strokeWidth": 2},
          "encoding": {
            "x": {"field": "x", "type": "quantitative", "scale": {"domain": [1900, 2100]}, "axis": null},
            "x2": {"field": "x2"},
            "y": {"field": "y", "type": "quantitative", "scale": {"domain": [-3, 9]}, "axis": null},
            "y2": {"field": "y2"}
          }
        },
        {
          "data": {"name": "arrows"},
          "transform": [{"calculate": "atan2(-(datum.y2 - datum.y) * 40, (datum.x2 - datum.x) * 3.27) * 180 / PI", "as": "ang"}],
          "mark": {"type": "point", "shape": "M-1,-0.75L0,0L-1,0.75", "filled": false, "stroke": "black", "strokeWidth": 2, "size": 500, "opacity": 1},
          "encoding": {
            "x": {"field": "x2", "type": "quantitative", "scale": {"domain": [1900, 2100]}, "axis": null},
            "y": {"field": "y2", "type": "quantitative", "scale": {"domain": [-3, 9]}, "axis": null},
            "angle": {"field": "ang", "type": "quantitative", "scale": null}
          }
        },
        {
          "data": {"name": "boxes"},
          "mark": {"type": "rect", "fill": "#FFFF00", "stroke": "black", "strokeWidth": 2.5},
          "encoding": {
            "x": {"field": "x1", "type": "quantitative", "scale": {"domain": [1900, 2100]}, "axis": null},
            "x2": {"field": "x2"},
            "y": {"field": "y1", "type": "quantitative", "scale": {"domain": [-3, 9]}, "axis": null},
            "y2": {"field": "y2"}
          }
        },
        {
          "data": {"name": "ctext"},
          "mark": {"type": "text", "align": "center", "baseline": "middle", "fontSize": 30, "color": "#1a1a1a"},
          "encoding": {
            "x": {"field": "x", "type": "quantitative", "scale": {"domain": [1900, 2100]}, "axis": null},
            "y": {"field": "y", "type": "quantitative", "scale": {"domain": [-3, 9]}, "axis": null},
            "text": {"field": "label"}
          }
        },
        {
          "data": {"name": "ltext"},
          "mark": {"type": "text", "align": "left", "baseline": "middle", "fontSize": 28, "color": "#1a1a1a"},
          "encoding": {
            "x": {"field": "x", "type": "quantitative", "scale": {"domain": [1900, 2100]}, "axis": null},
            "y": {"field": "y", "type": "quantitative", "scale": {"domain": [-3, 9]}, "axis": null},
            "text": {"field": "label"}
          }
        },
        {
          "data": {"name": "misc"},
          "mark": {"type": "text", "align": "center", "baseline": "middle", "fontSize": 25, "color": "#1a1a1a"},
          "encoding": {
            "x": {"field": "x", "type": "quantitative", "scale": {"domain": [1900, 2100]}, "axis": null},
            "y": {"field": "y", "type": "quantitative", "scale": {"domain": [-3, 9]}, "axis": null},
            "text": {"field": "label"}
          }
        },
        {
          "data": {"name": "ttl"},
          "mark": {"type": "text", "align": "center", "baseline": "middle", "fontSize": 26, "color": "#1a1a1a"},
          "encoding": {
            "x": {"field": "x", "type": "quantitative", "scale": {"domain": [1900, 2100]}, "axis": null},
            "y": {"field": "y", "type": "quantitative", "scale": {"domain": [-3, 9]}, "axis": null},
            "text": {"field": "label"}
          }
        }
      ]
    }
  ],
  "resolve": {"scale": {"x": "independent"}, "axis": {"x": "independent", "y": "independent"}}
}
